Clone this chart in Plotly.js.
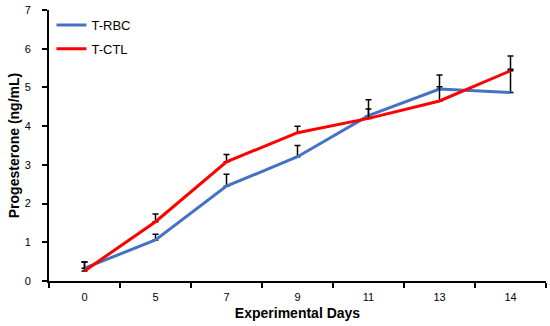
<!DOCTYPE html>
<html>
<head>
<meta charset="utf-8">
<script src="https://cdn.plot.ly/plotly-3.0.1.min.js"></script>
<style>html,body{margin:0;padding:0;background:#fff;}#chart{width:550px;height:326px;}</style>
</head>
<body>
<div id="chart"></div>
<script>
const days = ['0', '5', '7', '9', '11', '13', '14'];
const rbc = [0.33, 1.06, 2.45, 3.21, 4.27, 4.96, 4.87];
const rbcErr = [0.16, 0.15, 0.31, 0.29, 0.41, 0.36, 0.60];
const ctl = [0.26, 1.53, 3.08, 3.83, 4.20, 4.65, 5.43];
const ctlErr = [0.23, 0.20, 0.19, 0.17, 0.24, 0.37, 0.38];
const yTicks = [0, 1, 2, 3, 4, 5, 6, 7];

const font = 'Liberation Sans, Arial, sans-serif';
function errBar(arr) {
  return {type: 'data', array: arr, arrayminus: arr.map(() => 0), symmetric: false,
          color: '#000', thickness: 1.5, width: 3, visible: true};
}
const traces = [
  {x: days, y: rbc, name: 'T-RBC', type: 'scatter', mode: 'lines', legendgroup: 'a',
   line: {color: '#4472C4', width: 3}, error_y: errBar(rbcErr)},
  {x: days, y: ctl, name: 'T-CTL', type: 'scatter', mode: 'lines', legendgroup: 'b',
   line: {color: '#FF0000', width: 3}, error_y: errBar(ctlErr)}
];
const layout = {
  width: 550, height: 326,
  margin: {l: 49, r: 4, t: 10, b: 45},
  paper_bgcolor: '#fff', plot_bgcolor: '#fff',
  font: {family: font, size: 11, color: '#000'},
  showlegend: true,
  legend: {x: 0.005, y: 1.0, xanchor: 'left', yanchor: 'top', bgcolor: 'rgba(0,0,0,0)',
           font: {family: font, size: 13, color: '#000'}, traceorder: 'grouped', tracegroupgap: 4},
  xaxis: {type: 'category', range: [-0.5, 6.5], showline: true, linecolor: '#000', linewidth: 2,
          ticks: 'outside', tickson: 'boundaries', ticklen: 5, tickwidth: 2, tickcolor: '#000',
          showgrid: false, zeroline: false, fixedrange: true, ticklabelstandoff: 5,
          tickfont: {family: font, size: 11},
          title: {text: '<b>Experimental Days</b>', font: {family: font, size: 14}, standoff: 6}},
  yaxis: {range: [0, 7], tickvals: yTicks, showline: true, linecolor: '#000', linewidth: 2,
          ticks: 'outside', ticklen: 5, tickwidth: 2, tickcolor: '#000',
          showgrid: false, zeroline: false, fixedrange: true, ticklabelstandoff: 9,
          tickfont: {family: font, size: 11},
          title: {text: '<b>Progesterone (ng/mL)</b>', font: {family: font, size: 14}, standoff: 2}}
};
Plotly.newPlot('chart', traces, layout, {displayModeBar: false, staticPlot: true});
</script>
</body>
</html>
